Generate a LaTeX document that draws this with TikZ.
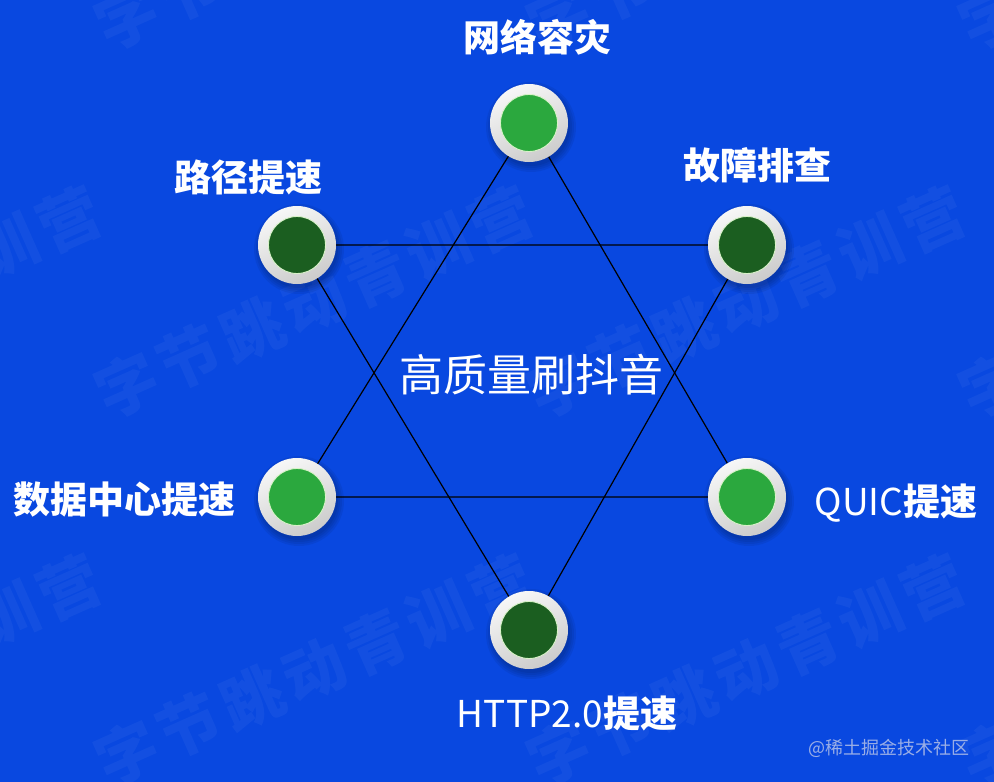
\documentclass[tikz,border=0pt]{standalone}
\usepackage{fontspec}
\setmainfont{Noto Sans CJK SC}
\newfontfamily\wmfont[LetterSpace=10]{Noto Sans CJK SC}
\definecolor{bgblue}{HTML}{0948E0}
\definecolor{lgreen}{HTML}{2BA83E}
\definecolor{dgreen}{HTML}{1B5E20}
\definecolor{rimA}{HTML}{F7F7F7}
\definecolor{rimB}{HTML}{CBCBCB}
\definecolor{dotedge}{HTML}{D8F2C8}
\definecolor{credit}{HTML}{9AAEE6}
\pgfdeclarelayer{bgfill}
\pgfdeclarelayer{lines}
\pgfsetlayers{bgfill,lines,main}
\begin{document}
\begin{tikzpicture}[x=1pt,y=-1pt,
  ring/.style={circle, minimum size=78pt, inner sep=0pt, top color=rimA, bottom color=rimB, shading angle=25},
  dotlight/.style={circle, minimum size=57pt, inner sep=0pt, fill=lgreen, draw=dotedge, line width=0.9pt},
  dotdark/.style={circle, minimum size=57pt, inner sep=0pt, fill=dgreen, draw=dotedge, line width=0.9pt},
  lbl/.style={text=white, font=\bfseries\fontsize{37}{42}\selectfont, inner sep=0pt},
  ctr/.style={text=white, font=\fontsize{44}{50}\selectfont, inner sep=0pt},
  wm/.style={text=white, text opacity=0.045, rotate=24, inner sep=0pt, font=\wmfont\bfseries\fontsize{62}{66}\selectfont},
  creditstyle/.style={text=credit, font=\fontsize{18}{20}\selectfont, inner sep=0pt},
  link/.style={draw=black, line width=1.2pt, line join=round}]
\begin{pgfonlayer}{bgfill}
  \fill[bgblue] (0,0) rectangle (994,782);
  \useasboundingbox (0,0) rectangle (994,782);
  \foreach \i in {-1,0,1,2}{
    \foreach \j in {-1,0,1}{
      \node[wm] (wm-\i-\j) at ({314+432*\i},{302+368*\j}) {字节跳动青训营};
    }
  }
\end{pgfonlayer}

\foreach \n/\x/\y/\s in {top/529/123/dotlight, ul/297/245/dotdark, ur/747/245/dotdark, ll/297/497/dotlight, lr/747/497/dotlight, bot/529/630/dotdark}{
  \foreach \r in {45,43,41,39}{
    \fill[black,opacity=0.06] (\x+2,\y+4) circle (\r);
  }
  \node[ring] (\n) at (\x,\y) {};
  \node[\s] (\n-in) at (\n) {};
}

\begin{pgfonlayer}{lines}
  \draw[link] (top.center) -- (ll.center) -- (lr.center) -- cycle;
  \draw[link] (ul.center) -- (ur.center) -- (bot.center) -- cycle;
\end{pgfonlayer}

\node[lbl] (l-top) at (537,37) {网络容灾};
\node[lbl] (l-ul) at (248,177) {路径提速};
\node[lbl] (l-ur) at (757,165) {故障排查};
\node[lbl] (l-ll) at (124,500) {数据中心提速};
\node[lbl] (l-lr) at (896,503) {{\mdseries QUIC}提速};
\node[lbl] (l-bot) at (567,713) {{\mdseries HTTP2.0}提速};
\node[ctr] (center) at (531,375) {高质量刷抖音};
\node[creditstyle] (credit) at (889,748) {@稀土掘金技术社区};
\end{tikzpicture}
\end{document}
